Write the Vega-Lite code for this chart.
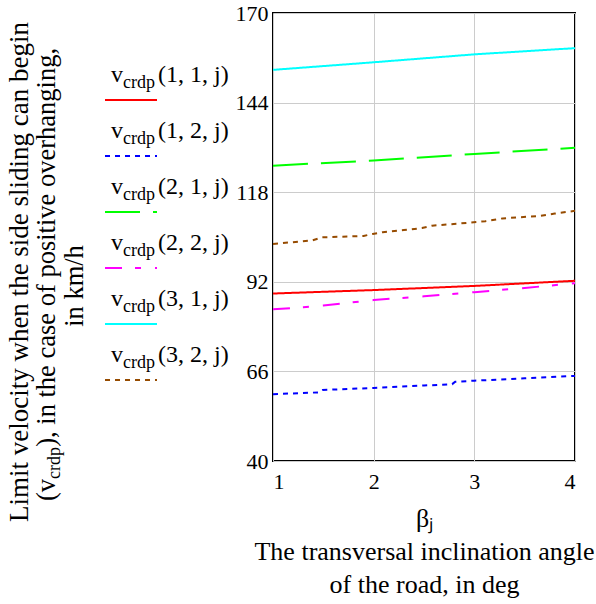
{
  "$schema": "https://vega.github.io/schema/vega-lite/v6.json",
  "padding": {"left": 0, "top": 1, "right": 0, "bottom": 0},
  "background": "white",
  "config": {"font": "Liberation Serif", "view": {"stroke": null}, "concat": {"spacing": 5}, "axis": {"labelFont": "Liberation Serif", "titleFont": "Liberation Serif"}, "text": {"font": "Liberation Serif"}, "style": {"guide-label": {"font": "Liberation Serif"}, "guide-title": {"font": "Liberation Serif"}}},
  "datasets": {
    "lines": [
      {"s": "(1, 1, j)", "x": 1, "v": 88.6}, {"s": "(1, 1, j)", "x": 2, "v": 89.6}, {"s": "(1, 1, j)", "x": 3, "v": 90.8}, {"s": "(1, 1, j)", "x": 4, "v": 92.3},
      {"s": "(1, 2, j)", "x": 1, "v": 59.4}, {"s": "(1, 2, j)", "x": 1.45, "v": 59.9}, {"s": "(1, 2, j)", "x": 1.49, "v": 60.6}, {"s": "(1, 2, j)", "x": 2, "v": 61.2}, {"s": "(1, 2, j)", "x": 2.5, "v": 61.9}, {"s": "(1, 2, j)", "x": 2.78, "v": 62.3}, {"s": "(1, 2, j)", "x": 2.81, "v": 63.0}, {"s": "(1, 2, j)", "x": 3, "v": 63.3}, {"s": "(1, 2, j)", "x": 3.5, "v": 64.0}, {"s": "(1, 2, j)", "x": 4, "v": 64.7},
      {"s": "(2, 1, j)", "x": 1, "v": 125.7}, {"s": "(2, 1, j)", "x": 2, "v": 127.2}, {"s": "(2, 1, j)", "x": 3, "v": 129.1}, {"s": "(2, 1, j)", "x": 4, "v": 130.9},
      {"s": "(2, 2, j)", "x": 1, "v": 84.0}, {"s": "(2, 2, j)", "x": 1.3, "v": 84.6}, {"s": "(2, 2, j)", "x": 1.5, "v": 85.1}, {"s": "(2, 2, j)", "x": 2, "v": 86.7}, {"s": "(2, 2, j)", "x": 2.5, "v": 87.8}, {"s": "(2, 2, j)", "x": 3, "v": 89.0}, {"s": "(2, 2, j)", "x": 3.5, "v": 90.2}, {"s": "(2, 2, j)", "x": 4, "v": 91.6},
      {"s": "(3, 1, j)", "x": 1, "v": 153.5}, {"s": "(3, 1, j)", "x": 2, "v": 155.7}, {"s": "(3, 1, j)", "x": 3, "v": 158.0}, {"s": "(3, 1, j)", "x": 4, "v": 159.8},
      {"s": "(3, 2, j)", "x": 1, "v": 103.0}, {"s": "(3, 2, j)", "x": 1.39, "v": 104.0}, {"s": "(3, 2, j)", "x": 1.49, "v": 104.9}, {"s": "(3, 2, j)", "x": 1.9, "v": 105.3}, {"s": "(3, 2, j)", "x": 1.99, "v": 105.9}, {"s": "(3, 2, j)", "x": 2.09, "v": 106.4}, {"s": "(3, 2, j)", "x": 2.3, "v": 107.0}, {"s": "(3, 2, j)", "x": 2.48, "v": 107.6}, {"s": "(3, 2, j)", "x": 2.58, "v": 108.3}, {"s": "(3, 2, j)", "x": 2.85, "v": 108.9}, {"s": "(3, 2, j)", "x": 3.11, "v": 109.6}, {"s": "(3, 2, j)", "x": 3.28, "v": 110.4}, {"s": "(3, 2, j)", "x": 3.64, "v": 111.1}, {"s": "(3, 2, j)", "x": 3.8, "v": 111.8}, {"s": "(3, 2, j)", "x": 4, "v": 112.6}
    ],
    "legend": [
      {"s": "(1, 1, j)"}, {"s": "(1, 2, j)"}, {"s": "(2, 1, j)"}, {"s": "(2, 2, j)"}, {"s": "(3, 1, j)"}, {"s": "(3, 2, j)"}
    ]
  },
  "hconcat": [
    {
      "width": 228,
      "height": 448,
      "layer": [
        {
          "data": {"values": [{"t": "Limit velocity when the side sliding can begin"}]},
          "mark": {"type": "text", "angle": 270, "align": "center", "baseline": "alphabetic", "fontSize": 27, "color": "black"},
          "encoding": {"text": {"field": "t"}, "x": {"value": 28}, "y": {"value": 259}}
        },
        {
          "data": {"values": [{"t": "in km/h"}]},
          "mark": {"type": "text", "angle": 270, "align": "center", "baseline": "alphabetic", "fontSize": 26.5, "color": "black"},
          "encoding": {"text": {"field": "t"}, "x": {"value": 83}, "y": {"value": 273}}
        },
        {
          "data": {"values": [{"t": "(v"}]},
          "mark": {"type": "text", "angle": 270, "align": "left", "baseline": "alphabetic", "fontSize": 26.5, "color": "black", "dx": 0},
          "encoding": {"text": {"field": "t"}, "x": {"value": 55}, "y": {"value": 488}}
        },
        {
          "data": {"values": [{"t": "crdp"}]},
          "mark": {"type": "text", "angle": 270, "align": "left", "baseline": "alphabetic", "fontSize": 18, "color": "black", "dx": 22.1, "dy": 5},
          "encoding": {"text": {"field": "t"}, "x": {"value": 55}, "y": {"value": 488}}
        },
        {
          "data": {"values": [{"t": "), in the case of positive overhanging,"}]},
          "mark": {"type": "text", "angle": 270, "align": "left", "baseline": "alphabetic", "fontSize": 26.5, "color": "black", "dx": 54.2},
          "encoding": {"text": {"field": "t"}, "x": {"value": 55}, "y": {"value": 488}}
        },
        {
          "data": {"name": "legend"},
          "mark": {"type": "text", "text": "v", "align": "left", "baseline": "alphabetic", "fontSize": 24, "color": "black", "dy": -18},
          "encoding": {
            "x": {"value": 111},
            "y": {"field": "s", "type": "nominal", "scale": {"type": "point", "padding": 0, "domain": ["(1, 1, j)", "(1, 2, j)", "(2, 1, j)", "(2, 2, j)", "(3, 1, j)", "(3, 2, j)"], "range": [87, 367]}, "axis": null}
          }
        },
        {
          "data": {"name": "legend"},
          "mark": {"type": "text", "text": "crdp", "align": "left", "baseline": "alphabetic", "fontSize": 18, "color": "black", "dy": -12},
          "encoding": {
            "x": {"value": 123},
            "y": {"field": "s", "type": "nominal", "axis": null}
          }
        },
        {
          "data": {"name": "legend"},
          "mark": {"type": "text", "align": "left", "baseline": "alphabetic", "fontSize": 24, "color": "black", "dy": -18},
          "encoding": {
            "x": {"value": 158},
            "text": {"field": "s"},
            "y": {"field": "s", "type": "nominal", "axis": null}
          }
        },
        {
          "data": {"name": "legend"},
          "mark": {"type": "rule", "strokeWidth": 2},
          "encoding": {
            "x": {"value": 105},
            "x2": {"value": 157},
            "y": {"field": "s", "type": "nominal", "axis": null},
            "color": {"field": "s", "type": "nominal", "legend": null, "scale": {"domain": ["(1, 1, j)", "(1, 2, j)", "(2, 1, j)", "(2, 2, j)", "(3, 1, j)", "(3, 2, j)"], "range": ["#ff0000", "#0000ff", "#00ff00", "#ff00ff", "#00ffff", "#964b00"]}},
            "strokeDash": {"field": "s", "type": "nominal", "legend": null, "scale": {"domain": ["(1, 1, j)", "(1, 2, j)", "(2, 1, j)", "(2, 2, j)", "(3, 1, j)", "(3, 2, j)"], "range": [[1, 0], [5, 5], [35, 13], [17, 13, 6, 14], [1, 0], [5, 5]]}}
          }
        }
      ]
    },
    {
      "width": 302,
      "height": 448,
      "view": {"stroke": "black", "strokeWidth": 2},
      "data": {"name": "lines"},
      "mark": {"type": "line", "strokeWidth": 2, "clip": true},
      "encoding": {
        "x": {
          "field": "x", "type": "quantitative",
          "scale": {"domain": [1, 4], "nice": false},
          "axis": {
            "values": [1, 2, 3, 4], "domain": false, "ticks": false, "gridColor": "#cccccc",
            "labelFont": "Liberation Serif", "labelFontSize": 22, "labelColor": "black", "labelPadding": 10, "labelFlush": true,
            "title": ["βⱼ", "The transversal inclination angle", "of the road, in deg"],
            "titleFont": "Liberation Serif", "titleFontSize": 26, "titleFontWeight": "normal", "titleColor": "black", "titleLineHeight": 33, "titlePadding": 13
          }
        },
        "y": {
          "field": "v", "type": "quantitative",
          "scale": {"domain": [40, 170], "nice": false, "zero": false},
          "axis": {
            "values": [40, 66, 92, 118, 144, 170], "domain": false, "ticks": false, "gridColor": "#cccccc",
            "labelFont": "Liberation Serif", "labelFontSize": 22, "labelColor": "black", "labelPadding": 5, "title": null
          }
        },
        "color": {"field": "s", "type": "nominal", "legend": null, "scale": {"domain": ["(1, 1, j)", "(1, 2, j)", "(2, 1, j)", "(2, 2, j)", "(3, 1, j)", "(3, 2, j)"], "range": ["#ff0000", "#0000ff", "#00ff00", "#ff00ff", "#00ffff", "#964b00"]}},
        "strokeDash": {"field": "s", "type": "nominal", "legend": null, "scale": {"domain": ["(1, 1, j)", "(1, 2, j)", "(2, 1, j)", "(2, 2, j)", "(3, 1, j)", "(3, 2, j)"], "range": [[1, 0], [5, 5], [35, 13], [17, 13, 6, 14], [1, 0], [5, 5]]}}
      }
    }
  ],
  "resolve": {"scale": {"color": "independent", "strokeDash": "independent", "y": "independent"}}
}
